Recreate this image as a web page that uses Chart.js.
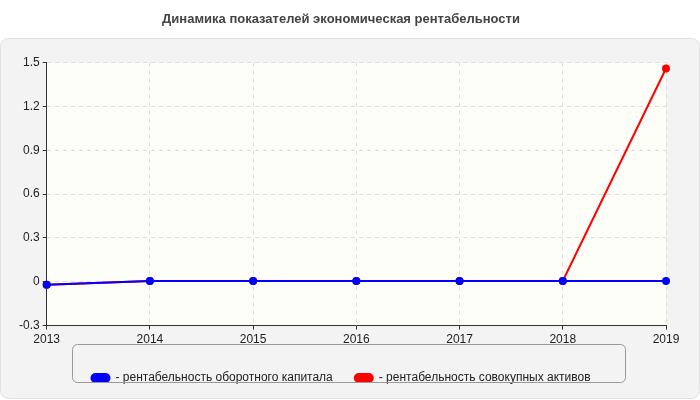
<!DOCTYPE html>
<html><head><meta charset="utf-8">
<script src="https://cdn.jsdelivr.net/npm/chart.js@4"></script>
<style>body{margin:0;background:#fff}#wrap{width:700px;height:400px}</style>
</head><body><div id="wrap"><canvas id="c"></canvas></div>
<script>
const years = [2013, 2014, 2015, 2016, 2017, 2018, 2019];
const assetsReturn = [-0.02, 0.005, 0.005, 0.005, 0.005, 0.005, 1.46];
const capitalReturn = [-0.02, 0.005, 0.005, 0.005, 0.005, 0.005, 0.005];
const yTicks = [-0.3, 0, 0.3, 0.6, 0.9, 1.2, 1.5];

// grey panel, plot fill and box around legend
const decor = {
  id: "decor",
  beforeDraw(chart) {
    const c = chart.ctx, a = chart.chartArea;
    c.save();
    c.fillStyle = "#fff";
    c.fillRect(0, 0, chart.width, chart.height);
    c.fillStyle = "#f3f3f3";
    c.strokeStyle = "#e0e0e0";
    c.beginPath();
    c.roundRect(0.5, 38.5, chart.width - 1, chart.height - 40, 8);
    c.fill(); c.stroke();
    c.fillStyle = "#fefef8";
    c.fillRect(a.left, a.top, a.right - a.left, a.bottom - a.top);
    c.restore();
  },
  afterDraw(chart) {
    const c = chart.ctx;
    c.save();
    c.strokeStyle = "#999";
    c.beginPath();
    c.roundRect(72.5, 344.5, 553, 38, 5);
    c.stroke();
    c.restore();
  }
};

new Chart(document.getElementById("c"), {
  type: "line",
  data: {
    labels: years,
    datasets: [
      { label: "- рентабельность совокупных активов", data: assetsReturn,
        borderColor: "#ff0000", backgroundColor: "#ff0000", borderWidth: 2,
        pointRadius: 3, tension: 0, order: 1 },
      { label: "- рентабельность оборотного капитала", data: capitalReturn,
        borderColor: "#0000ff", backgroundColor: "#0000ff", borderWidth: 2,
        pointRadius: 3, tension: 0, order: 0 }
    ]
  },
  options: {
    responsive: true,
    maintainAspectRatio: false,
    animation: false,
    layout: { padding: { left: 16, right: 34, top: 0, bottom: 6 } },
    plugins: {
      title: { display: true, text: "Динамика показателей экономическая рентабельности",
        color: "#444", font: { family: "Arial", size: 13, weight: "bold" },
        padding: { top: 12, bottom: 35 } },
      legend: { position: "bottom",
        labels: { color: "#222", font: { family: "Arial", size: 12 },
          boxWidth: 18, boxHeight: 8, useBorderRadius: true, borderRadius: 4,
          padding: 22 } },
      tooltip: { enabled: false }
    },
    scales: {
      x: {
        offset: false,
        grid: { color: "#ddd", tickLength: 4, tickColor: "#333" },
        border: { color: "#333", dash: [4, 4] },
        ticks: { color: "#222", font: { family: "Arial", size: 12 }, maxRotation: 0 }
      },
      y: {
        min: -0.3, max: 1.5,
        afterBuildTicks: (s) => { s.ticks = yTicks.map(v => ({ value: v })); },
        grid: { color: "#ddd", tickLength: 4, tickColor: "#333" },
        border: { color: "#333", dash: [4, 4] },
        ticks: { color: "#222", font: { family: "Arial", size: 12 },
          callback: v => String(Math.round(v * 10) / 10) }
      }
    }
  },
  plugins: [decor]
});
</script></body></html>
